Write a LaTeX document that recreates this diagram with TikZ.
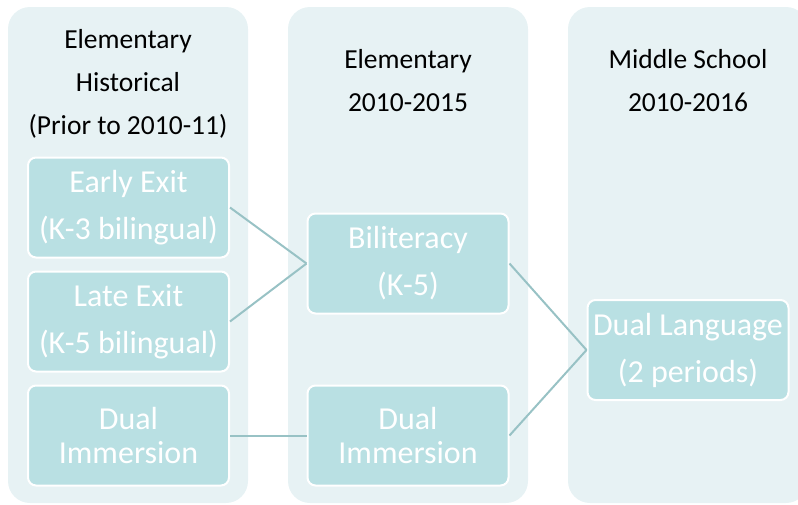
\documentclass[tikz,border=0pt]{standalone}
\usepackage{fontspec}
\setmainfont{Carlito}
\definecolor{bgteal}{RGB}{231,242,244}
\definecolor{boxteal}{RGB}{185,224,227}
\definecolor{lineteal}{RGB}{152,194,197}

\begin{document}
\begin{tikzpicture}[x=1pt,y=-1pt,
  colbg/.style={fill=bgteal,rounded corners=22pt},
  stage/.style={draw=white,line width=2pt,fill=boxteal,rounded corners=8pt,
    minimum width=201pt,minimum height=100pt,inner sep=2pt,
    text=white,align=center,font=\fontsize{32}{47}\selectfont},
  wrapped/.style={font=\fontsize{32}{34}\selectfont},
  head/.style={align=center,font=\fontsize{27.5}{43}\selectfont},
  link/.style={draw=lineteal,line width=2pt}]
\useasboundingbox (0,0) rectangle (798,504);
\clip (0,0) rectangle (798,504);

\fill[colbg] (8,7) rectangle (248,503);
\fill[colbg] (288,7) rectangle (528,503);
\fill[colbg] (568,7) rectangle (808,503);

\node[head] (hist) at (128,84) {Elementary\\Historical\\(Prior to 2010-11)};
\node[head] (elem) at (408,80.5) {Elementary\\2010-2015};
\node[head] (mid) at (688,80.5) {Middle School\\2010-2016};

\node[stage] (early) at (128.5,207.5) {Early Exit\\(K-3 bilingual)};
\node[stage] (late) at (128.5,321.5) {Late Exit\\(K-5 bilingual)};
\node[stage,wrapped] (dualA) at (128.5,435.5) {Dual\\Immersion};

\node[stage] (bilit) at (408,263.5) {Biliteracy\\(K-5)};
\node[stage,wrapped] (dualB) at (408,435.5) {Dual\\Immersion};

\node[stage] (duallang) at (688,350) {Dual Language\\(2 periods)};

\draw[link] (early.east) -- (bilit.west);
\draw[link] (late.east) -- (bilit.west);
\draw[link] (dualA.east) -- (dualB.west);
\draw[link] (bilit.east) -- (duallang.west);
\draw[link] (dualB.east) -- (duallang.west);

\end{tikzpicture}
\end{document}
